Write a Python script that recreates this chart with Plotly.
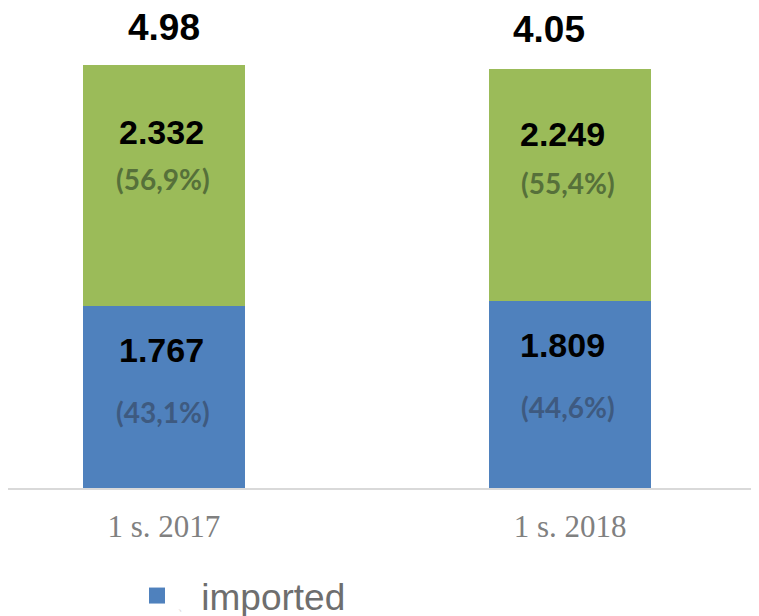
import plotly.graph_objects as go

categories = ["1 s. 2017", "1 s. 2018"]
imported = [1.767, 1.809]
other = [2.332, 2.249]
imported_pct = ["(43,1%)", "(44,6%)"]
other_pct = ["(56,9%)", "(55,4%)"]
totals = ["4.98", "4.05"]

BLUE = "#4F81BD"
GREEN = "#9BBB59"

x = [0, 1]

fig = go.Figure()
fig.add_trace(go.Bar(x=x, y=imported, name="imported", marker=dict(color=BLUE, line=dict(width=0)),
                     width=0.4, showlegend=False, hoverinfo="skip"))
fig.add_trace(go.Bar(x=x, y=other, name="other", marker=dict(color=GREEN, line=dict(width=0)),
                     width=0.4, showlegend=False, hoverinfo="skip"))
# legend entry for the imported series
fig.add_trace(go.Scatter(x=[None], y=[None], mode="markers",
                         name='<span style="color:#D8D8D8;font-size:14px">、</span> imported',
                         marker=dict(symbol="square", size=17, color=BLUE), showlegend=True))

val_font = dict(family="Liberation Sans, Arial", size=34, color="#000000")
tot_font = dict(family="Liberation Sans, Arial", size=37, color="#000000")

tot_xshift = [0, -21]
tot_yshift = [37, 40]
val_xshift = [-2, -8]
val_yshift_g = [-67, -65]
pct_xshift = [-1, -2]

ann = []
for i in range(2):
    top_b = imported[i]
    top_g = imported[i] + other[i]
    ann.append(dict(x=x[i], y=top_g, text="<b>%s</b>" % totals[i], showarrow=False,
                    yshift=tot_yshift[i], xshift=tot_xshift[i], font=tot_font, yanchor="middle"))
    ann.append(dict(x=x[i], y=top_g, text="<b>%.3f</b>" % other[i], showarrow=False,
                    yshift=val_yshift_g[i], xshift=val_xshift[i], font=val_font, yanchor="middle"))
    ann.append(dict(x=x[i], y=top_g, text="<b>%s</b>" % other_pct[i], showarrow=False,
                    yshift=-114, xshift=pct_xshift[i], yanchor="middle",
                    font=dict(family="Lato", size=28, color="#56703A")))
    ann.append(dict(x=x[i], y=top_b, text="<b>%s</b>" % imported_pct[i], showarrow=False,
                    yshift=-106, xshift=pct_xshift[i], yanchor="middle",
                    font=dict(family="Lato", size=28, color="#3E5A80")))
    ann.append(dict(x=x[i], y=top_b, text="<b>%.3f</b>" % imported[i], showarrow=False,
                    yshift=-44, xshift=val_xshift[i], font=val_font, yanchor="middle"))

fig.update_layout(
    barmode="stack",
    width=759, height=616,
    margin=dict(l=0, r=0, t=0, b=136),
    paper_bgcolor="white", plot_bgcolor="white",
    annotations=ann,
    xaxis=dict(range=[-0.384, 1.485], tickmode="array", tickvals=x, ticktext=categories,
               showgrid=False, zeroline=False, showline=True, linecolor="#D9D9D9", linewidth=2,
               ticks="", ticklabelstandoff=10,
               tickfont=dict(family="Liberation Serif", size=31, color="#808080"),
               fixedrange=True, automargin=False),
    yaxis=dict(range=[0, 4.651], visible=False, fixedrange=True, automargin=False),
    legend=dict(orientation="h", xref="container", x=129 / 759, xanchor="left",
                yref="container", y=28 / 616, yanchor="middle",
                font=dict(family="Liberation Sans, Arial", size=37, color="#6E6E6E"),
                bgcolor="rgba(0,0,0,0)"),
    showlegend=True,
)

fig.write_html("out.html")
